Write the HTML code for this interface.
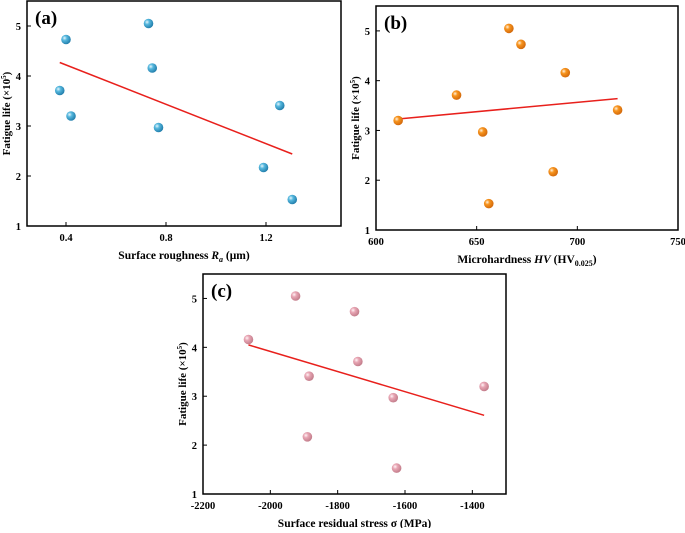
<!DOCTYPE html>
<html><head><meta charset="utf-8"><style>
html,body{margin:0;padding:0;background:#fff;}
svg text{font-family:"Liberation Serif",serif;font-weight:bold;fill:#000;}
</style></head><body>
<svg id="s" width="685" height="528" viewBox="0 0 685 528" xmlns="http://www.w3.org/2000/svg">
<defs>
<radialGradient id="gA" cx="0.35" cy="0.35" r="0.7"><stop offset="0" stop-color="#e8f6fc"/><stop offset="0.35" stop-color="#56b8de"/><stop offset="1" stop-color="#1e7aa8"/></radialGradient>
<radialGradient id="gB" cx="0.35" cy="0.35" r="0.7"><stop offset="0" stop-color="#fff2e0"/><stop offset="0.35" stop-color="#f7941d"/><stop offset="1" stop-color="#d0660a"/></radialGradient>
<radialGradient id="gC" cx="0.35" cy="0.35" r="0.7"><stop offset="0" stop-color="#fff5f7"/><stop offset="0.35" stop-color="#e8a6b4"/><stop offset="1" stop-color="#c07a88"/></radialGradient>
</defs>
</svg>
<script>
const aX=[0.375,0.4,0.42,0.73,0.745,0.77,1.19,1.255,1.305];
const aY=[3.71,4.73,3.2,5.05,4.16,2.97,2.17,3.41,1.53];
const aFit=[[0.375,4.27],[1.305,2.44]];
const aTicks=[0.4,0.8,1.2];
const bX=[611,640,653,656,666,672,688,694,720];
const bY=[3.2,3.71,2.97,1.53,5.05,4.73,2.17,4.16,3.41];
const bFit=[[611,3.23],[720,3.64]];
const bTicks=[600,650,700,750];
const cX=[-2065,-1925,-1890,-1885,-1750,-1740,-1635,-1625,-1365];
const cY=[4.16,5.05,2.17,3.41,4.73,3.71,2.97,1.53,3.2];
const cFit=[[-2065,4.05],[-1365,2.61]];
const cTicks=[-2200,-2000,-1800,-1600,-1400];
const yTicks=[1,2,3,4,5];

const svg=document.getElementById('s');
const NS='http://www.w3.org/2000/svg';
function mk(t,a,p){const e=document.createElementNS(NS,t);for(const k in a)e.setAttribute(k,a[k]);(p||svg).appendChild(e);return e;}

function panel(o){
  const g=mk('g',{});
  
  
  const sx=v=>o.L+(v-o.x0)/(o.x1-o.x0)*(o.R-o.L);
  const sy=v=>o.B-(v-1)/(5.5-1)*(o.B-o.T);
  const fr=mk('rect',{x:o.L,y:o.T,width:o.R-o.L,height:o.B-o.T,fill:'none',stroke:'#000','stroke-width':1.5},g);
  
  
  o.xt.forEach(v=>{
    const x=sx(v);
    mk('line',{x1:x,x2:x,y1:o.B,y2:o.B-4,stroke:'#000','stroke-width':1},g);
    const t=mk('text',{x:x,y:o.B+15,'text-anchor':'middle','font-size':10.5},g);
    t.textContent=v;
    
    
  });
  yTicks.forEach(v=>{
    const y=sy(v);
    mk('line',{x1:o.L,x2:o.L+4,y1:y,y2:y,stroke:'#000','stroke-width':1},g);
    const t=mk('text',{x:o.L-6,y:y+4,'text-anchor':'end','font-size':10.5},g);
    t.textContent=v;
    
    
  });
  const f=mk('line',{x1:sx(o.fit[0][0]),y1:sy(o.fit[0][1]),x2:sx(o.fit[1][0]),y2:sy(o.fit[1][1]),stroke:'#e8201c','stroke-width':1.5},g);
  
  
  o.xs.forEach((xv,i)=>{
    const c=mk('circle',{cx:sx(xv),cy:sy(o.ys[i]),r:4.8,fill:'url(#'+o.grad+')'},g);
    
    
  });
  const lb=mk('text',{x:o.L+8,y:o.T+23,'font-size':19},g);
  lb.textContent='('+o.id+')';
  
  
  const yl=mk('text',{transform:'translate('+(o.L-17)+','+((o.T+o.B)/2)+') rotate(-90)','text-anchor':'middle','font-size':11},g);
  yl.innerHTML='Fatigue life (×10<tspan dy="-4" font-size="7">5</tspan><tspan dy="4">)</tspan>';
  
  
  const xl=mk('text',{x:(o.L+o.R)/2,y:o.B+33,'text-anchor':'middle','font-size':11.5},g);
  xl.innerHTML=o.xlabel;
  
  
}
panel({id:'a',L:27,R:341,T:1,B:226,x0:0.244,x1:1.5,xs:aX,ys:aY,fit:aFit,xt:aTicks,grad:'gA',
  xlabel:'Surface roughness <tspan font-style="italic">R</tspan><tspan font-style="italic" font-size="8" dy="3">a</tspan><tspan dy="-3"> (μm)</tspan>'});
panel({id:'b',L:376,R:678,T:6,B:230,x0:600,x1:750,xs:bX,ys:bY,fit:bFit,xt:bTicks,grad:'gB',
  xlabel:'Microhardness <tspan font-style="italic">HV</tspan> (HV<tspan font-size="8" dy="3">0.025</tspan><tspan dy="-3">)</tspan>'});
panel({id:'c',L:203,R:506,T:274,B:494,x0:-2200,x1:-1300,xs:cX,ys:cY,fit:cFit,xt:cTicks,grad:'gC',
  xlabel:'Surface residual stress σ (MPa)'});
</script>
</body></html>
